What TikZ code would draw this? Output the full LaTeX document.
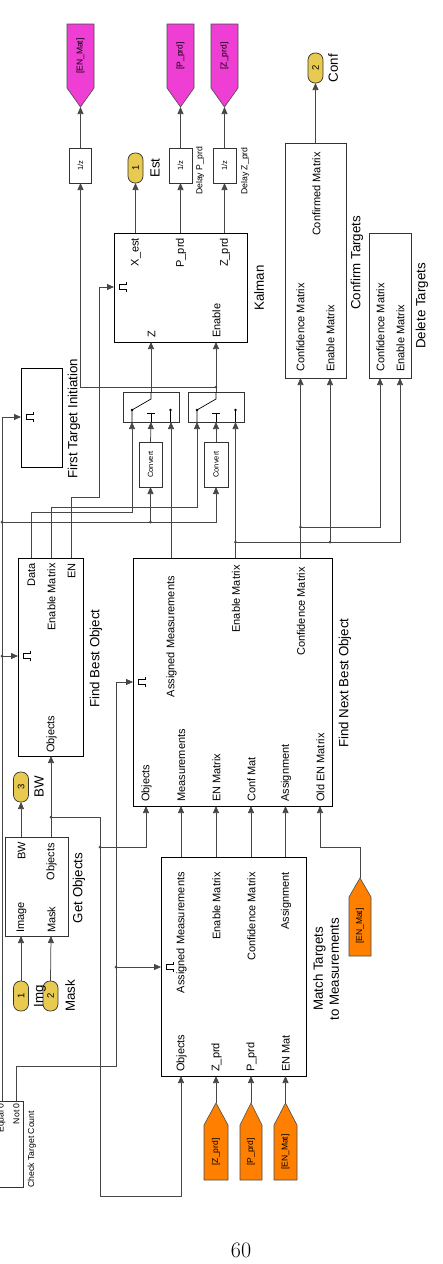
\documentclass[tikz,border=0pt]{standalone}
\usepackage{fontspec}
\newfontfamily\arial{Liberation Sans}
\usetikzlibrary{arrows.meta}
\definecolor{portY}{RGB}{232,202,80}
\definecolor{magT}{RGB}{238,62,212}
\definecolor{oraT}{RGB}{255,128,0}
\definecolor{wire}{RGB}{70,70,70}
\tikzset{
  blk/.style={draw=black, line width=1.1pt, fill=white, inner sep=0pt},
  thinblk/.style={draw=black!80, line width=0.7pt, fill=white, inner sep=0pt},
  sig/.style={draw=wire, line width=0.75pt},
  arr/.style={sig, -{Triangle[length=7pt,width=6pt]}},
  pl/.style={rotate=90, inner sep=0pt, font=\arial\fontsize{11}{12}\selectfont},
  bname/.style={rotate=90, inner sep=0pt, font=\arial\fontsize{13.3}{16}\selectfont, align=center},
  smalltxt/.style={rotate=90, inner sep=0pt, font=\arial\fontsize{8.7}{10}\selectfont},
  tinytxt/.style={font=\arial\fontsize{7.5}{9}\selectfont},
  jdot/.style={circle, fill=wire, inner sep=0pt, minimum size=3pt},
  ioport/.style={draw=black!80, fill=portY, line width=0.7pt, rounded corners=7pt, rotate=90, inner sep=0pt, minimum width=30pt, minimum height=15pt, font=\arial\fontsize{9.5}{10}\selectfont},
  gotoM/.style={fill=magT, draw=black!70, line width=0.6pt},
  gotoO/.style={fill=oraT, draw=black!70, line width=0.6pt},
  tagtxt/.style={rotate=90, inner sep=0pt, font=\arial\fontsize{8.5}{9}\selectfont},
}
\newcommand\trigsym[2]{\draw[line width=0.8pt] ({#1+12},{#2+5}) -- ({#1+12},{#2+2.5}) -- ({#1+5},{#2+2.5}) -- ({#1+5},{#2-2.5}) -- ({#1+12},{#2-2.5}) -- ({#1+12},{#2-5});}
\newcommand\swsym[1]{%
  \fill[black] ({#1-19},410) circle (1.3);
  \fill[black] ({#1+19.5},410) circle (1.3);
  \draw[line width=0.7pt] ({#1-19},422) -- ({#1-19},410) -- (#1,399) -- (#1,392);
  \draw[line width=0.7pt] ({#1-4},413) -- ({#1+4},413) (#1,413) -- (#1,422);
  \draw[line width=0.7pt] ({#1+19.5},410) -- ({#1+19.5},422);}
\begin{document}
\begin{tikzpicture}[x=1pt,y=-1pt]
\useasboundingbox (0,0) rectangle (443,1264);
\fill[white] (0,0) rectangle (443,1264);
\clip (0,0) rectangle (443,1264);

% ---------------- blocks ----------------
\node[blk, anchor=north west, minimum width=133pt, minimum height=109pt] (kal) at (114,233) {};
\node[thinblk, anchor=north west, minimum width=61pt, minimum height=235pt] (cnf) at (285,143) {};
\node[thinblk, anchor=north west, minimum width=42pt, minimum height=145pt] (del) at (369,233) {};
\node[blk, anchor=north west, minimum width=199pt, minimum height=248pt] (fnbo) at (133,558) {};
\node[blk, anchor=north west, minimum width=65pt, minimum height=198pt] (fbo) at (18,558) {};
\node[blk, anchor=north west, minimum width=41pt, minimum height=99pt] (fti) at (21,368) {};
\node[thinblk, anchor=north west, minimum width=63pt, minimum height=99pt] (gob) at (5,837) {};
\node[blk, anchor=north west, minimum width=145pt, minimum height=219pt] (mtm) at (161,857) {};
\node[thinblk, anchor=north west, minimum width=30pt, minimum height=86pt] (ctc) at (-7,1101) {};
\node[thinblk, anchor=north west, minimum width=56pt, minimum height=30pt] (sw1) at (123,392) {};
\node[thinblk, anchor=north west, minimum width=56pt, minimum height=30pt] (sw2) at (188,392) {};
\node[thinblk, rotate=90, minimum width=45pt, minimum height=23pt, tinytxt] (cv1) at (150.5,464.5) {Convert};
\node[thinblk, rotate=90, minimum width=45pt, minimum height=24pt, tinytxt] (cv2) at (216,464.5) {Convert};
\node[thinblk, rotate=90, minimum width=35pt, minimum height=22pt, tinytxt] (d1) at (80.5,165.5) {1/z};
\node[thinblk, rotate=90, minimum width=35pt, minimum height=23pt, tinytxt] (d2) at (180.5,165.5) {1/z};
\node[thinblk, rotate=90, minimum width=35pt, minimum height=23pt, tinytxt] (d3) at (224.5,165.5) {1/z};

% in/out ports
\node[ioport] (est) at (135.5,168) {1};
\node[ioport] (cnfo) at (315.5,68) {2};
\node[ioport] (bwo) at (21,787) {3};
\node[ioport] (imgi) at (21,996) {1};
\node[ioport] (mski) at (50.5,996) {2};

% goto tags (magenta) and from tags (orange)
\filldraw[gotoM] (67,24) -- (94,24) -- (94,88) -- (80.5,107) -- (67,88) -- cycle;
\filldraw[gotoM] (167,24) -- (194,24) -- (194,88) -- (180.5,107) -- (167,88) -- cycle;
\filldraw[gotoM] (211,24) -- (238,24) -- (238,88) -- (224.5,107) -- (211,88) -- cycle;
\node[tagtxt] (tg1) at (80.5,56) {[EN\_Mat]};
\node[tagtxt] (tg2) at (180.5,56) {[P\_prd]};
\node[tagtxt] (tg3) at (224.5,56) {[Z\_prd]};
\filldraw[gotoO] (216,1103) -- (228,1125) -- (228,1180) -- (204,1180) -- (204,1125) -- cycle;
\filldraw[gotoO] (251,1103) -- (262,1125) -- (262,1180) -- (240,1180) -- (240,1125) -- cycle;
\filldraw[gotoO] (285.5,1103) -- (297,1125) -- (297,1180) -- (274,1180) -- (274,1125) -- cycle;
\filldraw[gotoO] (360,878) -- (371,897) -- (371,956) -- (349,956) -- (349,897) -- cycle;
\node[tagtxt] (fr1) at (216,1152) {[Z\_prd]};
\node[tagtxt] (fr2) at (251,1152) {[P\_prd]};
\node[tagtxt] (fr3) at (285.5,1152) {[EN\_Mat]};
\node[tagtxt] (fr4) at (360,926) {[EN\_Mat]};

% trigger and switch symbols
\trigsym{21}{417}
\trigsym{18}{656}
\trigsym{114}{287}
\trigsym{133}{682}
\trigsym{161}{967}
\swsym{151}
\swsym{216}

% ---------------- port coordinates ----------------
\coordinate (gEN) at (80.5,107); \coordinate (gP) at (180.5,107); \coordinate (gZ) at (224.5,107);
\coordinate (d1o) at (80.5,148); \coordinate (d1i) at (80.5,183);
\coordinate (d2o) at (180.5,148); \coordinate (d2i) at (180.5,183);
\coordinate (d3o) at (224.5,148); \coordinate (d3i) at (224.5,183);
\coordinate (estb) at (135.5,183);
\coordinate (kXo) at (135.5,233); \coordinate (kPo) at (180.5,233); \coordinate (kZo) at (224.5,233);
\coordinate (kZi) at (151,342); \coordinate (kEi) at (216,342); \coordinate (kTr) at (114,287);
\coordinate (cnfb) at (315.5,83); \coordinate (cfo) at (315.5,143);
\coordinate (cfC) at (300.5,378); \coordinate (cfE) at (330,378);
\coordinate (dlC) at (380,378); \coordinate (dlE) at (400,378);
\coordinate (fnAM) at (171,558); \coordinate (fnEM) at (235.5,558); \coordinate (fnCM) at (300.5,558);
\coordinate (fnOb) at (146,806); \coordinate (fnMe) at (181,806); \coordinate (fnEN) at (216,806);
\coordinate (fnCo) at (251,806); \coordinate (fnAs) at (285.5,806); \coordinate (fnOl) at (320,806);
\coordinate (fnTr) at (133,682);
\coordinate (sw1o) at (151,392); \coordinate (s1a) at (132,422); \coordinate (s1b) at (151,422); \coordinate (s1c) at (171,422);
\coordinate (sw2o) at (216,392); \coordinate (s2a) at (197,422); \coordinate (s2b) at (216,422); \coordinate (s2c) at (235.5,422);
\coordinate (cv1o) at (150.5,442); \coordinate (cv1i) at (150.5,487);
\coordinate (cv2o) at (216,442); \coordinate (cv2i) at (216,487);
\coordinate (fbD) at (31,558); \coordinate (fbE) at (51,558); \coordinate (fbN) at (71,558);
\coordinate (fbO) at (51,756); \coordinate (fbT) at (18,656);
\coordinate (ftT) at (21,417);
\coordinate (goBW) at (21,837); \coordinate (goOb) at (51,837); \coordinate (goIm) at (21,936); \coordinate (goMk) at (51,936);
\coordinate (bwb) at (21,802);
\coordinate (imgt) at (21,981); \coordinate (mskt) at (50.5,981);
\coordinate (mtAM) at (181,857); \coordinate (mtEM) at (216,857); \coordinate (mtCM) at (251,857); \coordinate (mtAs) at (285.5,857);
\coordinate (mtOb) at (181,1076); \coordinate (mtZ) at (216,1076); \coordinate (mtP) at (251,1076); \coordinate (mtEN) at (285.5,1076);
\coordinate (mtT) at (161,967);
\coordinate (ctE) at (2,1101); \coordinate (ctN) at (16,1101);
\coordinate (fZ) at (216,1103); \coordinate (fP) at (251,1103); \coordinate (fEN) at (285.5,1103); \coordinate (fEN2) at (360,878);
% junctions
\coordinate (jEN) at (216,387);
\coordinate (jC1) at (150.5,522);
\coordinate (jL1) at (2,522);
\coordinate (jL2) at (2,656);
\coordinate (jA) at (300.5,527);
\coordinate (jB) at (235.5,542);
\coordinate (jB2) at (330,542);
\coordinate (jO1) at (51,817);
\coordinate (jO2) at (100,847);
\coordinate (jT) at (116,967);

% ---------------- connectors ----------------
\draw[arr] (d1o) -- (gEN);
\draw[arr] (d2o) -- (gP);
\draw[arr] (d3o) -- (gZ);
\draw[arr] (kXo) -- (estb);
\draw[arr] (kPo) -- (d2i);
\draw[arr] (kZo) -- (d3i);
\draw[arr] (cfo) -- (cnfb);
\draw[arr] (sw1o) -- (kZi);
\draw[arr] (sw2o) -- (kEi);
\draw[arr] (jEN) -| (d1i);
\draw[arr] (fbN) -- (71,497) -- (99,497) -- (99,287) -- (kTr);
\draw[arr] (fbD) -- (31,512) -- (132,512) -- (s1a);
\draw[arr] (fbE) -- (51,507) -- (197,507) -- (s2a);
\draw[arr] (jL1) -- (216,522) -- (cv2i);
\draw[arr] (jC1) -- (cv1i);
\draw[arr] (cv1o) -- (s1b);
\draw[arr] (cv2o) -- (s2b);
\draw[arr] (fnAM) -- (s1c);
\draw[arr] (fnEM) -- (s2c);
\draw[arr] (fnCM) -- (cfC);
\draw[arr] (jA) -| (dlC);
\draw[arr] (jB) -| (dlE);
\draw[arr] (jB2) -- (cfE);
\draw[arr] (ctE) -- (2,417) -- (ftT);
\draw[arr] (jL2) -- (fbT);
\draw[arr] (goBW) -- (bwb);
\draw[arr] (goOb) -- (fbO);
\draw[arr] (jO1) -- (100,817) -- (100,1196) -- (181,1196) -- (mtOb);
\draw[arr] (jO2) -| (fnOb);
\draw[arr] (imgt) -- (goIm);
\draw[arr] (mskt) -- (goMk);
\draw[arr] (ctN) -- (16,1066) -- (116,1066) -- (116,682) -- (fnTr);
\draw[arr] (jT) -- (mtT);
\draw[arr] (mtAM) -- (fnMe);
\draw[arr] (mtEM) -- (fnEN);
\draw[arr] (mtCM) -- (fnCo);
\draw[arr] (mtAs) -- (fnAs);
\draw[arr] (fZ) -- (mtZ);
\draw[arr] (fP) -- (mtP);
\draw[arr] (fEN) -- (mtEN);
\draw[arr] (fEN2) -- (360,847) -- (320,847) -- (fnOl);
\foreach \j in {jEN,jC1,jL1,jL2,jA,jB,jB2,jO1,jO2,jT} \node[jdot] at (\j) {};

% ---------------- port labels ----------------
\node[pl, anchor=east] (lk1) at (136,238) {X\_est};
\node[pl, anchor=east] (lk2) at (181,238) {P\_prd};
\node[pl, anchor=east] (lk3) at (225,238) {Z\_prd};
\node[pl, anchor=west] (lk4) at (151.5,338) {Z};
\node[pl, anchor=west] (lk5) at (216.5,338) {Enable};

\node[pl, anchor=east] (lc1) at (316.5,152) {Confirmed Matrix};
\node[pl, anchor=west] (lc2) at (300.5,372) {Confidence Matrix};
\node[pl, anchor=west] (lc3) at (330.5,372) {Enable Matrix};
\node[pl, anchor=west] (ld1) at (380.5,372) {Confidence Matrix};
\node[pl, anchor=west] (ld2) at (400.5,372) {Enable Matrix};

\node[pl, anchor=east] (ln1) at (171.5,576) {Assigned Measurements};
\node[pl, anchor=east] (ln2) at (236,565) {Enable Matrix};
\node[pl, anchor=east] (ln3) at (301,567) {Confidence Matrix};
\node[pl, anchor=west] (ln4) at (146.5,802) {Objects};
\node[pl, anchor=west] (ln5) at (181.5,802) {Measurements};
\node[pl, anchor=west] (ln6) at (216.5,802) {EN Matrix};
\node[pl, anchor=west] (ln7) at (251.5,802) {Conf Mat};
\node[pl, anchor=west] (ln8) at (286,802) {Assignment};
\node[pl, anchor=west] (ln9) at (320.5,802) {Old EN Matrix};

\node[pl, anchor=east] (lm1) at (181.5,872) {Assigned Measurements};
\node[pl, anchor=east] (lm2) at (216.5,872) {Enable Matrix};
\node[pl, anchor=east] (lm3) at (251.5,872) {Confidence Matrix};
\node[pl, anchor=east] (lm4) at (286,872) {Assignment};
\node[pl, anchor=west] (lm5) at (181.5,1072) {Objects};
\node[pl, anchor=west] (lm6) at (216.5,1072) {Z\_prd};
\node[pl, anchor=west] (lm7) at (251.5,1072) {P\_prd};
\node[pl, anchor=west] (lm8) at (286,1072) {EN Mat};

\node[pl, anchor=east] (lf1) at (31.5,563) {Data};
\node[pl, anchor=east] (lf2) at (51.5,563) {Enable Matrix};
\node[pl, anchor=east] (lf3) at (71.5,563) {EN};
\node[pl, anchor=west] (lf4) at (51.5,753) {Objects};

\node[pl, anchor=east] (lg1) at (21.5,842) {BW};
\node[pl, anchor=east] (lg2) at (51.5,843) {Objects};
\node[pl, anchor=west] (lg3) at (21.5,933) {Image};
\node[pl, anchor=west] (lg4) at (51.5,933) {Mask};

\node[smalltxt, anchor=east] (lt1) at (1.5,1103) {Equal 0};
\node[smalltxt, anchor=east] (lt2) at (16.5,1103) {Not 0};

% ---------------- block names ----------------
\node[bname] (nk) at (259,288) {Kalman};
\node[bname, anchor=west] (nc) at (357,310) {Confirm Targets};
\node[bname, anchor=east] (nd) at (422,263) {Delete Targets};
\node[bname, anchor=west] (nn) at (345,748) {Find Next Best Object};
\node[bname, anchor=west] (nb) at (96,708) {Find Best Object};
\node[bname] (nt) at (74,419) {First Target Initiation};
\node[bname] (ng) at (79,888) {Get Objects};
\node[bname] (nm) at (326,969) {Match Targets\\to Measurements};
\node[smalltxt, anchor=west] (nctc) at (32,1188) {Check Target Count};
\node[smalltxt] (ndp) at (200,171) {Delay P\_prd};
\node[smalltxt] (ndz) at (245,171) {Delay Z\_prd};
\node[bname] (nest) at (155,168) {Est};
\node[bname] (ncnf) at (333,68) {Conf};
\node[bname] (nbw) at (39,787) {BW};
\node[bname] (nimg) at (40,996) {Img};
\node[bname] (nmsk) at (70,996) {Mask};

\node[font=\fontsize{22}{22}\selectfont, inner sep=0pt] (pg) at (241,1250) {60};
\end{tikzpicture}
\end{document}
